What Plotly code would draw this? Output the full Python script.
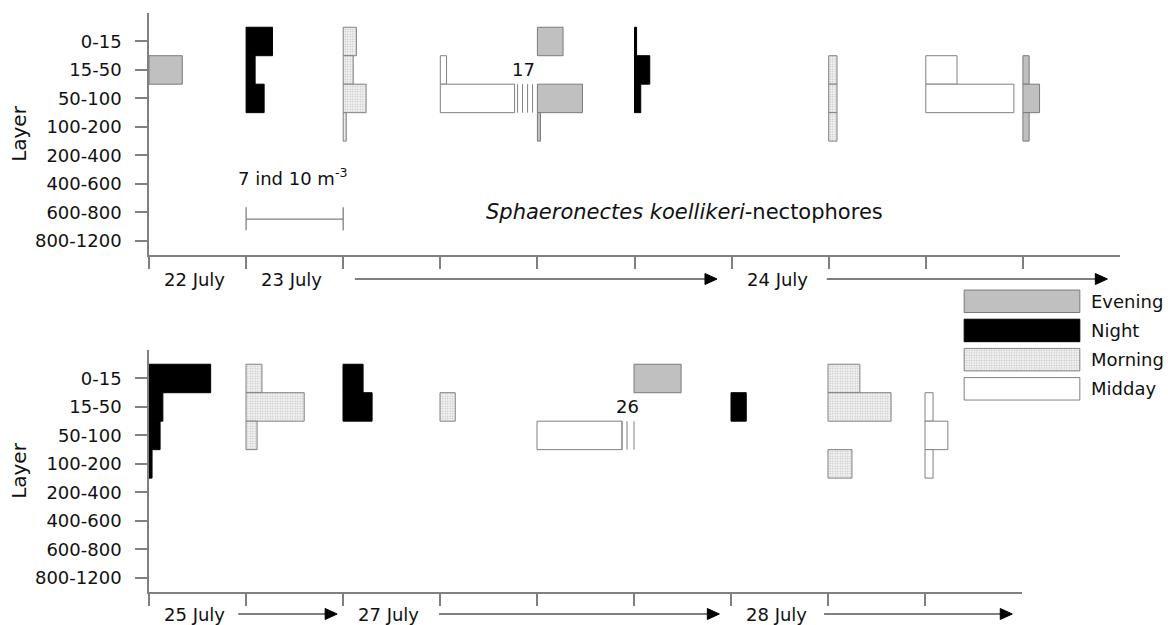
import plotly.graph_objects as go

# ---------------- data ----------------
LAYERS = ["0-15", "15-50", "50-100", "100-200", "200-400", "400-600", "600-800", "800-1200"]
PERIODS = ["Evening", "Night", "Morning", "Midday"]
SCALE_IND = 7          # ind 10 m^-3 represented by one sampling interval
BREAK_AT = 10          # values above this are drawn as broken bars

# Upper panel: 22-24 July (slot = sampling station index along the time axis)
top_slot = [0, 1, 2, 3, 4, 5, 7, 8, 9]
top_period = ["Evening", "Night", "Morning", "Midday", "Evening", "Night", "Morning", "Midday", "Evening"]
top_0_15 = [0, 1.9, 0.95, 0, 1.85, 0.15, 0, 0, 0]
top_15_50 = [2.4, 0.65, 0.72, 0.45, 0, 1.1, 0.6, 2.25, 0.45]
top_50_100 = [0, 1.3, 1.65, 17, 3.25, 0.45, 0.6, 6.35, 1.2]
top_100_200 = [0, 0, 0.22, 0, 0.22, 0, 0.6, 0, 0.45]
top_days = ["22 July", "23 July", "24 July"]
top_day_slot = [0, 1, 6]

# Lower panel: 25-28 July
bot_slot = [0, 1, 2, 3, 4, 5, 6, 7, 8]
bot_period = ["Night", "Morning", "Night", "Morning", "Midday", "Evening", "Night", "Morning", "Midday"]
bot_0_15 = [4.45, 1.15, 1.45, 0, 0, 3.4, 0, 2.3, 0]
bot_15_50 = [1.0, 4.2, 2.1, 1.1, 0, 0, 1.1, 4.55, 0.58]
bot_50_100 = [0.8, 0.8, 0, 0, 26, 0, 0, 0, 1.65]
bot_100_200 = [0.22, 0, 0, 0, 0, 0, 0, 1.73, 0.58]
bot_days = ["25 July", "27 July", "28 July"]
bot_day_slot = [0, 2, 6]

# ---------------- styles / layout constants ----------------
FONT = "DejaVu Sans"
GRAY = "#808080"
STYLE = {
    "Evening": dict(color="#c0c0c0", line=dict(color="#7a7a7a", width=1)),
    "Night": dict(color="#000000", line=dict(color="#000000", width=1)),
    "Morning": dict(color="#ededed",
                    pattern=dict(shape=".", fgcolor="#c4c4c4", bgcolor="#f6f6f6", size=2.5, solidity=0.35),
                    line=dict(color=GRAY, width=1)),
    "Midday": dict(color="#ffffff", line=dict(color=GRAY, width=1)),
}
TOP_BREAK = dict(length=0.765, offsets=[0.031, 0.082, 0.134, 0.185])
BOT_BREAK = dict(length=0.876, offsets=[0.0, 0.052, 0.124])
DAY_DX = 0.47
TOP_ARROWS = [(2.12, 5.85), (6.98, 9.87)]
BOT_ARROWS = [(0.92, 1.94), (2.99, 5.88), (6.96, 8.90)]
HEAD = 0.124           # arrow head length in slot units
HEAD_HALF_PX = 5.5     # arrow head half height in pixels

W, H = 1168, 625
ML = 149
PW = W - ML
TOP_Y = (13, 255)      # pixel rows of the upper panel's y axis
BOT_Y = (350, 592)
Y_RANGE = (-1, 7.5)


def py(p):
    """pixel row -> paper fraction"""
    return 1 - p / H


fig = go.Figure()


def add_panel(slots, periods, layer_vals, xa, ya, brk):
    brk_x, brk_y, labels = [], [], []
    for p in PERIODS:
        xs, ys, bases = [], [], []
        for i, (s, per) in enumerate(zip(slots, periods)):
            if per != p:
                continue
            for li, vals in enumerate(layer_vals):
                v = vals[i]
                if v <= 0:
                    continue
                length = v / SCALE_IND
                if v > BREAK_AT:
                    length = brk["length"]
                    for off in brk["offsets"]:
                        xx = s + length + off
                        brk_x += [xx, xx, None]
                        brk_y += [li - 0.5, li + 0.5, None]
                    labels.append((s + length + max(brk["offsets"]) / 2, li - 1, v))
                xs.append(length)
                ys.append(li)
                bases.append(s)
        if xs:
            fig.add_trace(go.Bar(x=xs, y=ys, base=bases, orientation="h", width=1,
                                 marker=STYLE[p], name=p, showlegend=False,
                                 xaxis=xa, yaxis=ya))
    if brk_x:
        fig.add_trace(go.Scatter(x=brk_x, y=brk_y, mode="lines", line=dict(color=GRAY, width=1),
                                 showlegend=False, hoverinfo="skip", xaxis=xa, yaxis=ya))
    for (lx, ly, v) in labels:
        fig.add_annotation(x=lx, y=ly, xref=xa, yref=ya, text=str(v), showarrow=False,
                           font=dict(size=18, family=FONT, color="#111"))


add_panel(top_slot, top_period, [top_0_15, top_15_50, top_50_100, top_100_200], "x", "y", TOP_BREAK)
add_panel(bot_slot, bot_period, [bot_0_15, bot_15_50, bot_50_100, bot_100_200], "x2", "y2", BOT_BREAK)

# scale bar (one interval = SCALE_IND ind 10 m^-3)
sb0 = top_day_slot[1]
sb1 = sb0 + SCALE_IND / SCALE_IND
fig.add_trace(go.Scatter(x=[sb0, sb1, None, sb0, sb0, None, sb1, sb1],
                         y=[6.24, 6.24, None, 5.82, 6.63, None, 5.82, 6.63],
                         mode="lines", line=dict(color=GRAY, width=1.3),
                         showlegend=False, hoverinfo="skip", xaxis="x", yaxis="y"))
fig.add_annotation(x=(sb0 + sb1) / 2 - 0.02, y=4.75, xref="x", yref="y",
                   text=f"{SCALE_IND} ind 10 m<sup>-3</sup>", showarrow=False,
                   font=dict(size=18, family=FONT, color="#111"))
fig.add_annotation(x=5.51, y=5.98, xref="x", yref="y",
                   text="<i>Sphaeronectes koellikeri</i>-nectophores", showarrow=False,
                   font=dict(size=21, family=FONT, color="#111"))

# legend drawn as a tiny bar chart
for i, p in enumerate(PERIODS):
    fig.add_trace(go.Bar(x=[1], y=[i], orientation="h", width=0.77, marker=STYLE[p],
                         showlegend=False, xaxis="x3", yaxis="y3", hoverinfo="skip"))


# day labels and time arrows
def day_labels(days, dslots, xref, row, arrows):
    yp = py(row)
    dh = HEAD_HALF_PX / H
    for d, s in zip(days, dslots):
        fig.add_annotation(x=s + DAY_DX, y=yp, xref=xref, yref="paper", text=d,
                           showarrow=False, xanchor="center", yanchor="middle",
                           font=dict(size=18, family=FONT, color="#111"))
    for a0, a1 in arrows:
        fig.add_shape(type="line", xref=xref, yref="paper", x0=a0, x1=a1 - HEAD * 0.8,
                      y0=yp, y1=yp, line=dict(color="#555555", width=1.5))
        fig.add_shape(type="path", xref=xref, yref="paper",
                      path=f"M {a1},{yp} L {a1 - HEAD},{yp + dh} L {a1 - HEAD},{yp - dh} Z",
                      fillcolor="#000000", line=dict(color="#000000", width=1))


day_labels(top_days, top_day_slot, "x", 279, TOP_ARROWS)
day_labels(bot_days, bot_day_slot, "x2", 614, BOT_ARROWS)

axc = dict(showline=True, linecolor=GRAY, linewidth=1.5, ticks="outside", ticklen=12,
           tickcolor=GRAY, tickwidth=1.5, showgrid=False, zeroline=False, automargin=False,
           fixedrange=True)
yc = dict(axc, tickmode="array", tickvals=list(range(len(LAYERS))), ticktext=LAYERS,
          range=[Y_RANGE[1], Y_RANGE[0]], ticklabelstandoff=10,
          tickfont=dict(size=18, family=FONT, color="#111"),
          title=dict(text="Layer", standoff=3, font=dict(size=20, family=FONT, color="#111")))

fig.update_layout(
    width=W, height=H, margin=dict(l=ML, r=0, t=0, b=0),
    template="none", paper_bgcolor="white", plot_bgcolor="white",
    barmode="overlay", showlegend=False,
    font=dict(family=FONT, size=18, color="#111"),
    xaxis=dict(axc, domain=[0, (1120 - ML) / PW], range=[0, 10], tickmode="array",
               tickvals=list(range(10)), showticklabels=False, anchor="y"),
    yaxis=dict(yc, domain=[py(TOP_Y[1]), py(TOP_Y[0])], anchor="x"),
    xaxis2=dict(axc, domain=[0, (1022 - ML) / PW], range=[0, 9], tickmode="array",
                tickvals=list(range(9)), showticklabels=False, anchor="y2"),
    yaxis2=dict(yc, domain=[py(BOT_Y[1]), py(BOT_Y[0])], anchor="x2"),
    xaxis3=dict(domain=[(963 - ML) / PW, (1081 - ML) / PW], range=[-0.01, 1.01],
                visible=False, anchor="y3", fixedrange=True),
    yaxis3=dict(domain=[py(403.4), py(286.7)], range=[3.5, -0.5], anchor="x3",
                side="right", showline=False, ticks="", showgrid=False, zeroline=False,
                tickmode="array", tickvals=list(range(4)), ticktext=PERIODS,
                ticklabelstandoff=9, automargin=False, fixedrange=True,
                tickfont=dict(size=18, family=FONT, color="#111")),
)

fig.write_html("out.html", config={"displayModeBar": False},
               post_script="document.body.style.margin='0';document.body.style.overflow='hidden';")
